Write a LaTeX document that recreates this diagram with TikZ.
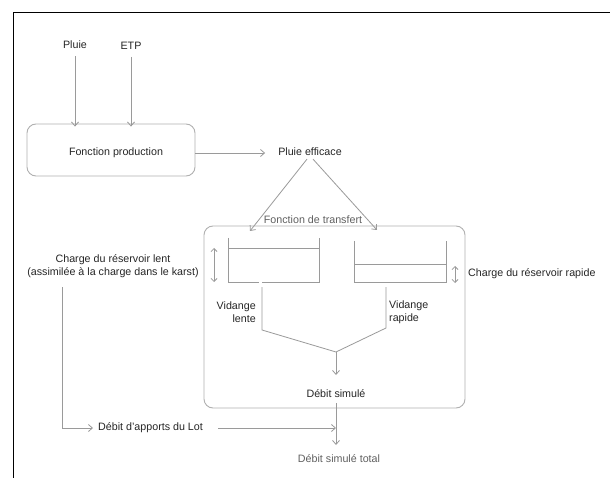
\documentclass[tikz,border=0pt]{standalone}
\usepackage{fontspec}
\setmainfont{Liberation Sans}
\usetikzlibrary{arrows.meta}
\definecolor{ln}{HTML}{9A9A9A}
\definecolor{bx}{HTML}{B0B0B0}
\definecolor{tx}{HTML}{262626}
\definecolor{tl}{HTML}{606060}
\begin{document}
\begin{tikzpicture}[x=1pt,y=-1pt,
  lbl/.style={font=\fontsize{10.7}{13}\selectfont, text=tx, inner sep=1pt},
  lblg/.style={lbl, text=tl},
  conn/.style={draw=ln, line width=0.8pt},
  arr/.style={conn, -{Straight Barb[length=4pt,width=7pt]}},
  darr/.style={conn, {Straight Barb[length=3pt,width=6pt]}-{Straight Barb[length=3pt,width=6pt]}},
  rbox/.style={draw=bx, line width=0.9pt, rounded corners=9pt},
  tank/.style={draw=ln, line width=0.9pt}]
\useasboundingbox (0,0) rectangle (610,478);
\fill[white] (0,0) rectangle (610,478);
\draw[black, line width=1.3pt] (13.5,478) -- (13.5,12.5) -- (610,12.5);

% production
\node[lbl] (pluie) at (75,45) {Pluie};
\node[lbl] (etp) at (131,46) {ETP};
\node[rbox, minimum width=168pt, minimum height=52pt] (prod) at (111,150) {};
\node[lbl] (prodt) at (116,153) {Fonction production};
\draw[arr] ([yshift=-6pt]pluie.south) -- ([yshift=-3pt]pluie.south |- prod.north);
\draw[arr] ([yshift=-6pt]etp.south) -- ([yshift=-3pt]etp.south |- prod.north);

\node[lbl] (eff) at (310,152) {Pluie efficace};
\coordinate (pe) at (195,153);
\draw[arr] (pe) -- ([xshift=-12pt]eff.west |- pe);

% transfer box
\node[rbox, minimum width=261pt, minimum height=182pt] (tr) at (334.5,317) {};
\node[lblg] (trt) at (313,220) {Fonction de transfert};
\coordinate (tl) at (250,231);
\coordinate (tr2) at (377,230);
\draw[arr] ([xshift=-3pt,yshift=-2pt]eff.south) -- (tl);
\draw[arr] ([xshift=3pt,yshift=-2pt]eff.south) -- (tr2);

% left tank
\draw[tank] (228,238) -- (228,282) -- (258.5,282);
\draw[tank] (262,282) -- (319,282) -- (319,238);
\draw[tank] (228,248) -- (319,248);
% right tank
\draw[tank] (354,241) -- (354,282) -- (446,282) -- (446,241);
\draw[tank] (354,264) -- (446,264);

\coordinate (pl1) at (262,287);
\coordinate (pl2) at (262,330);
\coordinate (pr1) at (386,287);
\coordinate (pr2) at (386,328);
\coordinate (mg) at (336,352);
\draw[conn] (pl1) -- (pl2) -- (mg);
\draw[conn] (pr1) -- (pr2) -- (mg);
\node[lbl] (ds) at (336,394) {Débit simulé};
\coordinate (dsin) at (336,375);
\draw[arr] (mg) -- (dsin);

\coordinate (dl1) at (214,248);
\coordinate (dl2) at (214,282);
\draw[darr] (dl1) -- (dl2);
\coordinate (dr1) at (455,266);
\coordinate (dr2) at (455,283);
\draw[darr] (dr1) -- (dr2);

\node[lbl, anchor=east, align=right] (vl) at (257,312.5) {Vidange\\lente};
\node[lbl, anchor=west, align=left] (vr) at (388,312.5) {Vidange\\rapide};

\node[lbl, align=center] (cl) at (113,266) {Charge du réservoir lent\\(assimilée à la charge dans le karst)};
\node[lbl, anchor=west] (cr) at (467,274) {Charge du réservoir rapide};

% bottom
\node[lbl, anchor=west] (lot) at (97,428) {Débit d'apports du Lot};
\node[lblg] (dst) at (339,459) {Débit simulé total};
\coordinate (c1) at (62,287);
\coordinate (c2) at (62,428);
\draw[arr] (c1) -- (c2) -- ([xshift=-4pt]lot.west);
\coordinate (jn) at (336,428);
\coordinate (dsout) at (336,403);
\coordinate (dsend) at (336,445);
\draw[arr] ([xshift=14pt]lot.east) -- (jn);
\draw[arr] (dsout) -- (dsend);
\end{tikzpicture}
\end{document}
